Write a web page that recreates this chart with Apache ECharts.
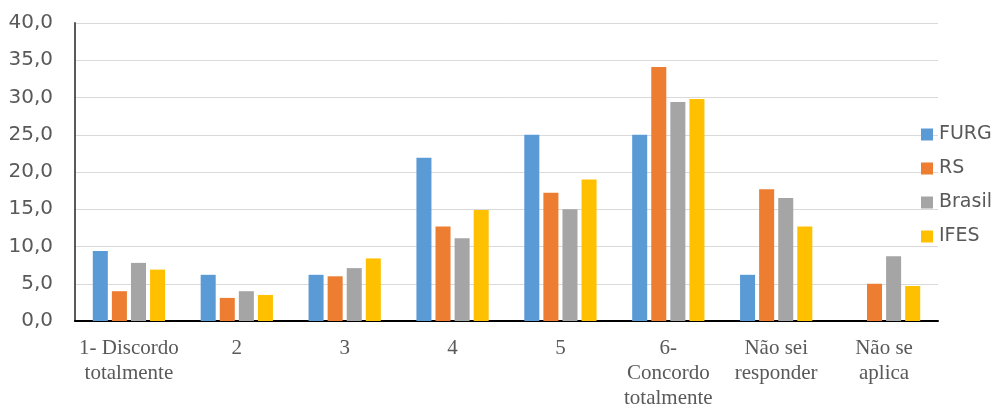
<!DOCTYPE html>
<html>
<head>
<meta charset="utf-8">
<script src="https://cdn.jsdelivr.net/npm/echarts@6/dist/echarts.min.js"></script>
<style>
html,body{margin:0;padding:0;background:#fff;}
#chart{width:994px;height:407px;}
</style>
</head>
<body>
<div id="chart"></div>
<script>
const categories = ["1- Discordo\ntotalmente", "2", "3", "4", "5", "6-\nConcordo\ntotalmente", "Não sei\nresponder", "Não se\naplica"];
const seriesNames = ["FURG", "RS", "Brasil", "IFES"];
const furg   = [9.4, 6.2, 6.2, 21.9, 25.0, 25.0, 6.2, null];
const rs     = [4.0, 3.1, 6.0, 12.7, 17.2, 34.1, 17.7, 5.0];
const brasil = [7.8, 4.0, 7.1, 11.1, 15.0, 29.4, 16.5, 8.7];
const ifes   = [6.9, 3.5, 8.4, 14.9, 19.0, 29.8, 12.7, 4.7];
const colors = ["#5b9bd5", "#ed7d31", "#a5a5a5", "#ffc000"];
const values = [furg, rs, brasil, ifes];

const chart = echarts.init(document.getElementById('chart'), null, {renderer: 'canvas'});
chart.setOption({
  animation: false,
  backgroundColor: '#ffffff',
  color: colors,
  grid: {left: 75, right: 56, top: 23, bottom: 86, containLabel: false, outerBoundsMode: 'none'},
  legend: {
    orient: 'vertical',
    left: 916,
    top: 120,
    itemWidth: 12,
    itemHeight: 12,
    itemGap: 15,
    icon: 'rect',
    textStyle: {fontFamily: 'DejaVu Sans', fontSize: 19, color: '#595959', padding: [0, 0, 0, 1]},
    data: seriesNames
  },
  xAxis: {
    type: 'category',
    data: categories,
    axisLine: {show: true, lineStyle: {color: '#000000', width: 2}},
    axisTick: {show: false},
    splitLine: {show: false},
    axisLabel: {
      interval: 0,
      margin: 15,
      fontFamily: 'Liberation Serif',
      fontSize: 21,
      lineHeight: 25,
      color: '#595959'
    }
  },
  yAxis: {
    type: 'value',
    min: 0,
    max: 40,
    interval: 5,
    axisLine: {show: true, lineStyle: {color: '#595959', width: 2}},
    axisTick: {show: false},
    splitLine: {show: true, lineStyle: {color: '#d9d9d9', width: 1}},
    axisLabel: {
      margin: 22,
      fontFamily: 'DejaVu Sans',
      fontSize: 20,
      color: '#595959',
      formatter: v => v.toFixed(1).replace('.', ',')
    }
  },
  series: seriesNames.map((n, i) => ({
    name: n,
    type: 'bar',
    data: values[i],
    barGap: '27%',
    barCategoryGap: '33%',
    itemStyle: {color: colors[i]}
  }))
});
</script>
</body>
</html>
